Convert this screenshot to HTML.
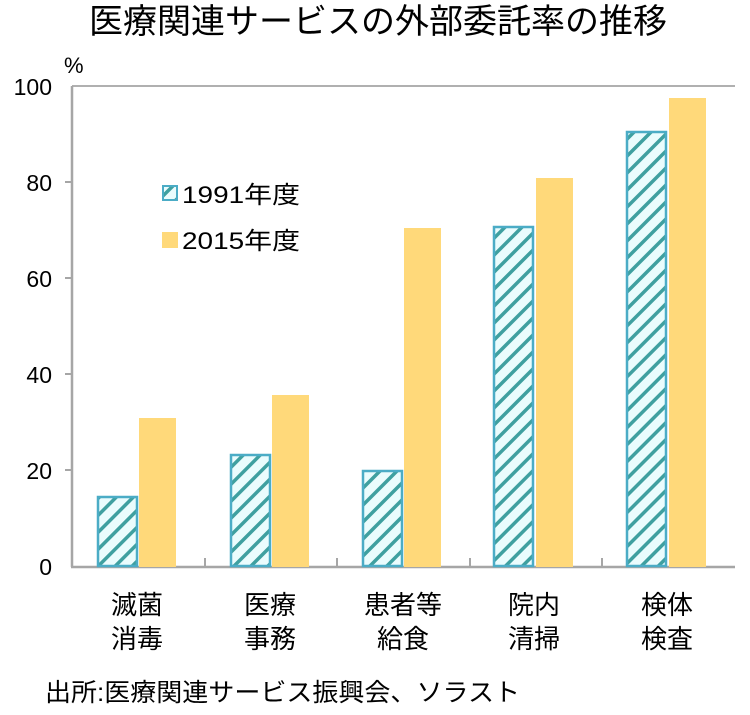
<!DOCTYPE html>
<html><head><meta charset="utf-8"><style>
body{margin:0;background:#fff;}
svg text{font-family:"Liberation Sans","Noto Sans CJK JP",sans-serif;fill:#000;}
</style></head><body>
<svg width="750" height="710" viewBox="0 0 750 710" xmlns="http://www.w3.org/2000/svg">
<defs>
<pattern id="h" patternUnits="userSpaceOnUse" width="12" height="12" patternTransform="rotate(-45)">
<rect width="12" height="12" fill="#eafcfd"/>
<rect width="12" height="3.5" fill="#3fa0a0"/>
</pattern>
</defs>
<text x="378" y="33" font-size="34" text-anchor="middle">医療関連サービスの外部委託率の推移</text>
<text x="64" y="73" font-size="22">%</text>
<line x1="72" y1="86" x2="735" y2="86" stroke="#b0b0b0" stroke-width="2"/>
<line x1="72" y1="86" x2="72" y2="567" stroke="#a6a6a6" stroke-width="2.5"/>
<line x1="71" y1="567" x2="735" y2="567" stroke="#a6a6a6" stroke-width="2.5"/>
<g stroke="#a6a6a6" stroke-width="2">
<line x1="65" y1="470" x2="72" y2="470"/><line x1="65" y1="374" x2="72" y2="374"/>
<line x1="65" y1="278" x2="72" y2="278"/><line x1="65" y1="182" x2="72" y2="182"/>
<line x1="205" y1="558" x2="205" y2="567"/><line x1="337" y1="558" x2="337" y2="567"/>
<line x1="470" y1="558" x2="470" y2="567"/><line x1="602" y1="558" x2="602" y2="567"/>
</g>
<g font-size="23" text-anchor="end">
<text x="52" y="575">0</text><text x="52" y="479">20</text><text x="52" y="383">40</text>
<text x="52" y="287">60</text><text x="52" y="191">80</text><text x="52" y="95">100</text>
</g>
<g fill="#ffd97a">
<rect x="139" y="418" width="37" height="149"/>
<rect x="272" y="395" width="37" height="172"/>
<rect x="404" y="228" width="37" height="339"/>
<rect x="536" y="178" width="37" height="389"/>
<rect x="669" y="98" width="37" height="469"/>
</g>
<g fill="url(#h)" stroke="#4bacc6" stroke-width="2.5">
<rect x="98" y="497" width="39" height="69"/>
<rect x="231" y="455" width="39" height="111"/>
<rect x="363" y="471" width="39" height="95"/>
<rect x="494" y="227" width="39" height="339"/>
<rect x="627" y="132" width="39" height="434"/>
</g>
<rect x="163" y="186" width="14" height="14" fill="url(#h)" stroke="#4bacc6" stroke-width="2"/>
<text x="182" y="203" font-size="24" textLength="118" lengthAdjust="spacingAndGlyphs">1991年度</text>
<rect x="162" y="232" width="16" height="16" fill="#ffd97a"/>
<text x="182" y="249" font-size="24" textLength="118" lengthAdjust="spacingAndGlyphs">2015年度</text>
<g font-size="26" text-anchor="middle">
<text x="137" y="614">滅菌</text><text x="137" y="648">消毒</text>
<text x="270" y="614">医療</text><text x="270" y="648">事務</text>
<text x="403" y="614">患者等</text><text x="403" y="648">給食</text>
<text x="534" y="614">院内</text><text x="534" y="648">清掃</text>
<text x="667" y="614">検体</text><text x="667" y="648">検査</text>
</g>
<text x="45" y="701" font-size="25" textLength="475" lengthAdjust="spacingAndGlyphs">出所:医療関連サービス振興会、ソラスト</text>
</svg>
</body></html>
